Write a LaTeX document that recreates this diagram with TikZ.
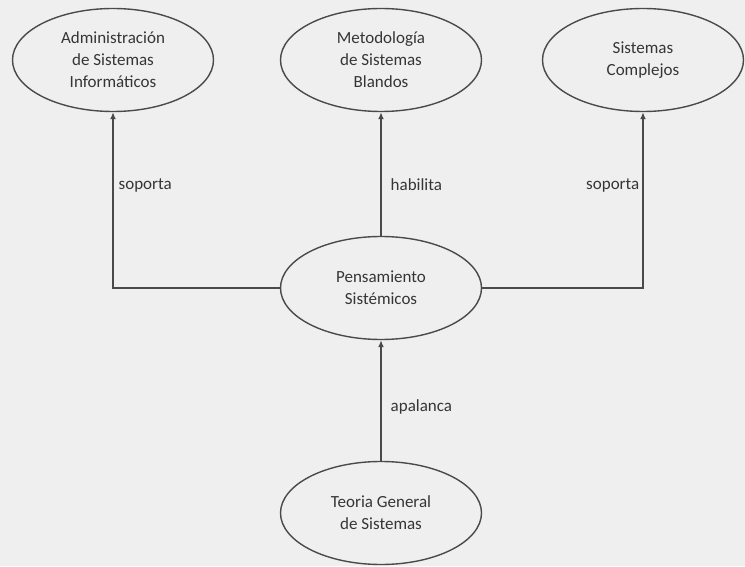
\documentclass[tikz,border=0pt]{standalone}
\usepackage{fontspec}
\setmainfont{Carlito}
\usepackage{xcolor}
\usepackage{tikz}
\usetikzlibrary{arrows.meta,shapes}
\definecolor{bggray}{HTML}{EFEFEF}
\definecolor{linegray}{HTML}{4A4A4A}
\definecolor{textgray}{HTML}{353535}

\begin{document}
\begin{tikzpicture}[->, >={Latex[length=7pt,width=6pt]}, x=1pt, y=1pt, line width=1.4pt, draw=linegray,
  main node/.style={ellipse, draw=linegray, fill=bggray, line width=1.4pt, inner sep=0pt, minimum width=201pt, minimum height=103pt, align=center, text=textgray, font=\fontsize{17}{22}\selectfont},
  label node/.style={inner sep=0pt, text=textgray, font=\fontsize{17}{21}\selectfont}]
\fill[bggray] (0,0) rectangle (745,566);
\useasboundingbox (0,0) rectangle (745,566);
\node[main node] (1) at (113,506) {Administración\\de Sistemas\\Informáticos};
\node[main node] (2) at (381,506) {Metodología\\de Sistemas\\Blandos};
\node[main node] (3) at (643,506) {Sistemas\\Complejos};
\node[main node] (4) at (381,278) {Pensamiento\\Sistémicos};
\node[main node] (5) at (381,53) {Teoria General\\de Sistemas};
\node[label node, anchor=west] (6) at (118,381) {soporta};
\node[label node, anchor=west] (7) at (390,381) {habilita};
\node[label node, anchor=east] (8) at (640,381) {soporta};
\node[label node, anchor=west] (9) at (390,159) {apalanca};
\draw[linegray] (4.west) -| (1.south);
\draw[linegray] (4.east) -| (3.south);
\path[draw=linegray]
(4) edge (2)
(5) edge (4);
\end{tikzpicture}
\end{document}
